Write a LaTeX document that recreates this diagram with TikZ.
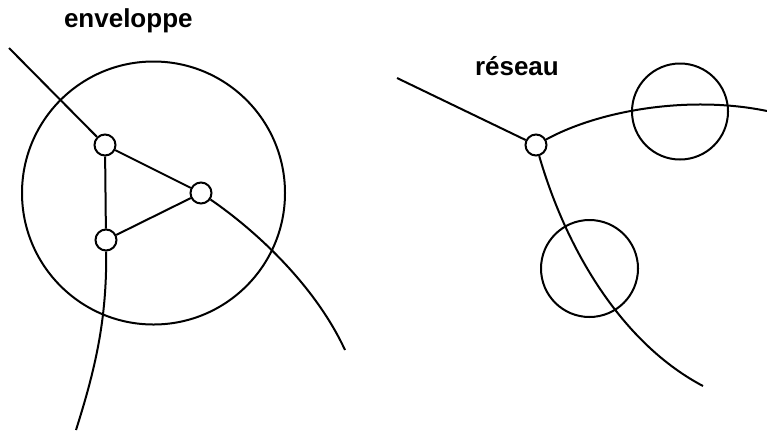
\documentclass[tikz,border=0pt]{standalone}
\usepackage{fontspec}
\setmainfont{Liberation Sans}
\begin{document}
\begin{tikzpicture}[x=1pt,y=-1pt,line width=2pt,
  knot/.style={circle,draw,fill=white,inner sep=0pt,minimum size=21pt},
  ring/.style={circle,draw,inner sep=0pt},
  lbl/.style={anchor=base west,inner sep=0pt,font=\bfseries\fontsize{26}{30}\selectfont}]
\useasboundingbox (0,0) rectangle (767,432);
% left: enveloppe
\node[lbl] (t1) at (63,27) {enveloppe};
\node[ring,minimum size=263pt] (env) at (153.5,193) {};
\coordinate (a0) at (9,48);
\coordinate (a1) at (345,350);
\coordinate (a2) at (76,430);
\node[knot] (p) at (105,145) {};
\node[knot] (q) at (201,193) {};
\node[knot] (s) at (106,240) {};
\draw (a0) -- (p);
\draw (p) -- (q);
\draw (q) -- (s);
\draw (p) -- (s);
\draw (q) .. controls (255,230) and (315,285) .. (a1);
\draw (s) .. controls (107,320) and (95,370) .. (a2);
% right: reseau
\node[lbl] (t2) at (474,75) {réseau};
\node[ring,minimum size=96pt] (c1) at (680,111.5) {};
\node[ring,minimum size=97pt] (c2) at (589.5,268.5) {};
\coordinate (b0) at (397,78);
\coordinate (b1) at (767,111);
\coordinate (b2) at (703,386);
\node[knot] (n) at (536,145) {};
\draw (b0) -- (n);
\draw (n) .. controls (600,110) and (690,95) .. (b1);
\draw (n) .. controls (568,255) and (625,345) .. (b2);
\end{tikzpicture}
\end{document}
